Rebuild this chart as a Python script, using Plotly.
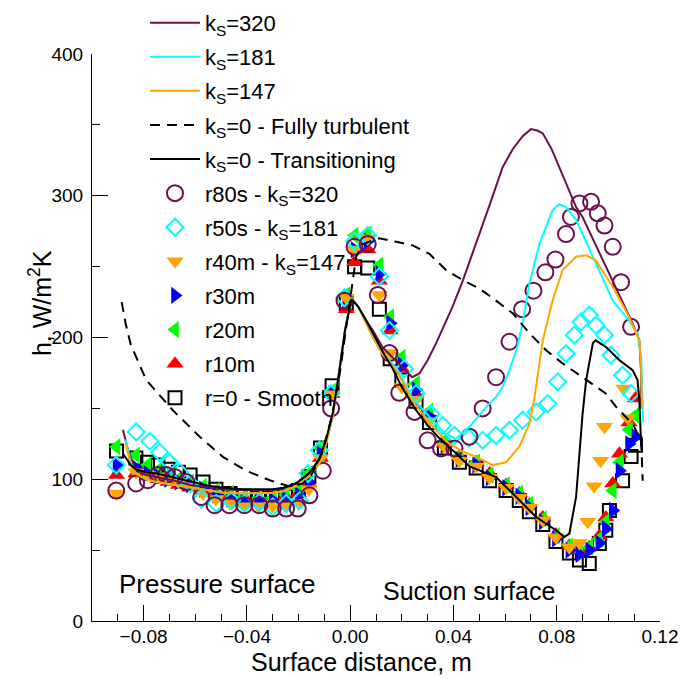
import plotly.graph_objects as go

# ---------------- data ----------------
# model curves
k320_x = [-0.088, -0.086, -0.083, -0.079, -0.075, -0.068, -0.062, -0.055, -0.049, -0.042, -0.036, -0.030, -0.026,
          -0.021, -0.016, -0.012, -0.0093, -0.0067, -0.0047, -0.002, 0.0005, 0.003, 0.0062, 0.0088, 0.0126, 0.0165,
          0.020, 0.024, 0.0268, 0.030, 0.0333, 0.0365, 0.0397, 0.0436, 0.050, 0.0545, 0.059, 0.063, 0.0668, 0.070,
          0.0725, 0.0746, 0.078, 0.081, 0.0875, 0.090, 0.0978, 0.1055, 0.1094, 0.112, 0.1127, 0.1127]
k320_y = [135, 120, 106, 103, 101.6, 99, 96, 94, 92.7, 92.4, 92.2, 92.5, 93.4, 97, 104, 113, 127.5, 146, 170, 205,
          228, 222, 212, 205, 193, 186, 179, 172, 174.6, 184, 196, 209, 222, 240, 272, 296, 320, 333, 342, 347, 346,
          344, 333, 320, 292, 285, 255, 226, 210, 198, 175, 150]

k181_x = [-0.087, -0.085, -0.083, -0.079, -0.075, -0.068, -0.062, -0.055, -0.049, -0.042, -0.036, -0.030, -0.026,
          -0.021, -0.016, -0.012, -0.0093, -0.0067, -0.0047, -0.002, 0.0005, 0.003, 0.0062, 0.0088, 0.0126, 0.0178,
          0.0205, 0.0242, 0.0307, 0.037, 0.041, 0.0462, 0.0527, 0.0565, 0.059, 0.0617, 0.0645, 0.0668, 0.0694,
          0.0733, 0.0784, 0.081, 0.0836, 0.0875, 0.094, 0.1017, 0.108, 0.1113, 0.1127, 0.1133, 0.1135]
k181_y = [128, 112, 104, 100, 98, 96, 94, 92, 90.5, 90, 90, 90.5, 91.5, 95, 102, 111, 125, 145, 170, 205, 228, 222,
          210, 200, 188, 179, 170, 157, 144, 132, 128.7, 137, 151, 158, 165, 177, 192, 210, 238, 266, 290, 294, 292,
          283, 257, 226, 212, 203, 186, 156, 140]

k147_x = [-0.087, -0.085, -0.083, -0.079, -0.075, -0.068, -0.062, -0.055, -0.049, -0.042, -0.036, -0.030, -0.026,
          -0.021, -0.016, -0.012, -0.0093, -0.0067, -0.0047, -0.002, 0.0005, 0.003, 0.0062, 0.0088, 0.0126, 0.0178,
          0.0205, 0.0242, 0.0307, 0.037, 0.043, 0.0488, 0.0552, 0.0604, 0.0655, 0.0694, 0.0714, 0.0746, 0.0784,
          0.0823, 0.0875, 0.0914, 0.095, 0.1017, 0.108, 0.112, 0.1127, 0.113]
k147_y = [125, 110, 104, 100, 98, 96, 94, 92, 90.5, 90, 90, 90.5, 91.5, 95, 102, 111, 125, 145, 170, 205, 228, 222,
          210, 200, 188, 177, 168, 155, 140, 127, 120, 115.8, 110, 112, 123, 139, 158, 198, 226, 247.6, 257, 258,
          254.6, 235.8, 214.6, 198, 179, 150]

turb_x = [-0.0885, -0.087, -0.085, -0.082, -0.079, -0.0687, -0.0583, -0.0493, -0.0403, -0.0312, -0.0235, -0.0183,
          -0.015, -0.011, -0.007, -0.004, -0.001, 0.0023, 0.0049, 0.0113, 0.0178, 0.0242, 0.0307, 0.0372, 0.0436,
          0.05, 0.0565, 0.063, 0.0694, 0.0759, 0.0823, 0.09, 0.099, 0.103, 0.1094, 0.1127, 0.1133]
turb_y = [225, 210, 195, 182, 170, 148.7, 130, 115.8, 106, 99.3, 95, 97, 103, 118, 145, 175, 215, 257, 266, 270,
          267.5, 265, 259, 247.5, 240.5, 234.6, 226, 217, 203, 191, 181.7, 172, 160.5, 151, 139, 127.5, 99]

trans_x = [-0.088, -0.085, -0.083, -0.079, -0.075, -0.068, -0.062, -0.055, -0.049, -0.042, -0.036, -0.030, -0.026,
           -0.021, -0.016, -0.012, -0.0093, -0.0067, -0.0047, -0.002, 0.0005, 0.003, 0.0062, 0.0088, 0.0126, 0.0165,
           0.020, 0.025, 0.030, 0.035, 0.040, 0.0462, 0.0565, 0.0643, 0.072, 0.0797, 0.083, 0.0849, 0.0875, 0.090,
           0.0914, 0.094, 0.095, 0.099, 0.1043, 0.1094, 0.1113, 0.112, 0.1127]
trans_y = [118, 110, 107, 105, 104, 101, 98, 95.5, 94, 93, 93, 93, 94, 97, 104, 114, 128, 147, 170, 205, 227, 222,
           212, 203, 190, 178, 165, 150, 138, 128, 120, 109, 101.6, 87.5, 73.4, 64, 59.3, 61.7, 87.5, 146, 170, 196,
           198, 193.4, 184, 177, 170, 156, 123]

# experimental data
press_x = [-0.0905, -0.083, -0.0785, -0.0745, -0.0705, -0.0665, -0.062, -0.057, -0.052, -0.0465, -0.041, -0.0355,
           -0.030, -0.025, -0.020, -0.016, -0.0115, -0.007, -0.0015]

r80_x = [-0.0906, -0.0829, -0.0784, -0.0745, -0.0713, -0.068, -0.0635, -0.0577, -0.0525, -0.0468, -0.041, -0.0352,
         -0.030, -0.0248, -0.0203, -0.0158, -0.0106, -0.0074, -0.0022,
         0.0017, 0.0068, 0.0107, 0.0152, 0.019, 0.0249, 0.030, 0.0352, 0.0404, 0.0462, 0.0513, 0.0565, 0.0617,
         0.0666, 0.071, 0.0756, 0.0795, 0.0836, 0.0855, 0.0888, 0.0933, 0.0959, 0.0985, 0.1017, 0.1049, 0.1088]
r80_y = [92, 97, 99.3, 103, 103, 101.6, 98, 87.5, 81.7, 81.7, 81.7, 81.7, 79.3, 79.3, 79.3, 88.7, 106, 150, 226,
         264, 266, 230, 189, 161, 147.5, 127.5, 121.7, 121.7, 130, 150, 172, 197, 220, 233, 246, 255, 273, 285,
         294.6, 295.7, 287.6, 279, 264, 239, 207.5]

r50_x = [-0.0906, -0.0829, -0.0776, -0.0738, -0.070, -0.066, -0.062, -0.0577, -0.0519, -0.046, -0.041, -0.0351,
         -0.030, -0.0248, -0.0196, -0.0164, -0.0119, -0.0074, -0.0022,
         0.0017, 0.0068, 0.0113, 0.0152, 0.021, 0.0255, 0.0313, 0.0358, 0.0404, 0.046, 0.0513, 0.0565, 0.0617,
         0.0668, 0.072, 0.0765, 0.0804, 0.0836, 0.0868, 0.0894, 0.0926, 0.0952, 0.0985, 0.101, 0.1055, 0.1088]
r50_y = [110, 133.4, 126.8, 119, 112, 105, 97, 86, 83, 85, 83, 84, 80.5, 83, 85, 104, 120.5, 160.5, 228,
         268, 272, 243, 205, 178, 160.5, 146, 138, 131, 129, 127.5, 131, 134.6, 141.7, 147.5, 153.4, 168.7, 188.7,
         201.7, 211, 215.8, 208.7, 201.7, 187.5, 173.4, 160.5]

r40_x = press_x + [0.0017, 0.0068, 0.0113, 0.0155, 0.020, 0.0255, 0.0307, 0.0365, 0.0423, 0.0488, 0.054, 0.0604,
                   0.0655, 0.0694, 0.0746, 0.0797, 0.0849, 0.0888, 0.092, 0.0945, 0.097, 0.0985, 0.106, 0.1075]
r40_y = [90, 105, 103, 102, 100, 98, 95, 90, 86, 83, 81, 81, 81, 81, 83, 93, 115, 160, 228,
         262, 270, 230, 189, 165, 156, 141, 123, 113, 109, 101, 94, 87, 80, 71, 59, 52, 55, 70, 95, 113, 137, 164, 143]

suct_x = [0.0017, 0.0068, 0.0113, 0.0155, 0.020, 0.0255, 0.0307, 0.0365, 0.0423, 0.0488, 0.054, 0.0604, 0.0655,
          0.0694, 0.0746, 0.0797, 0.0849, 0.0888, 0.0926, 0.0965, 0.099, 0.1017, 0.1043, 0.108, 0.1105]

r30_x = press_x + suct_x
r30_y = [110, 108, 104, 102, 100, 98, 96, 93, 89, 86, 85, 85, 85, 86, 89, 98, 118, 160, 226,
         262, 268, 245, 210, 180.5, 163, 144, 124, 114, 110, 101, 94, 88, 80, 70, 58, 50, 47, 50, 55, 65, 78, 106,
         125, 130]

r20_x = press_x + suct_x
r20_y = [123, 117, 110, 106, 103, 100, 98, 95, 92, 90, 88, 87, 87, 89, 93, 104, 122, 162, 230,
         272, 273, 251, 214.6, 186, 167.5, 148, 127, 116, 112, 103, 96, 90, 82, 72, 60, 53, 50, 52, 58, 70, 92, 112,
         135, 145]

r10_x = press_x + suct_x
r10_y = [103, 104, 102, 100, 98, 96, 94, 92, 90, 89, 87, 86, 86, 88, 90, 97, 115, 160, 220,
         253, 262, 240, 205, 178, 160, 145, 125, 116, 112, 104, 96, 90, 82, 73, 61, 53, 50, 52, 60, 73, 97, 118,
         140, 157]

r0_x = press_x + [0.0017, 0.0068, 0.0113, 0.0155, 0.020, 0.0255, 0.0307, 0.0365, 0.0423, 0.0488, 0.054, 0.0604,
                  0.0655, 0.0694, 0.0746, 0.0797, 0.0849, 0.0888, 0.0926, 0.0965, 0.099, 0.1004, 0.1055, 0.1088,
                  0.1105]
r0_y = [120, 115, 112, 110, 107, 105, 103, 98, 93, 90, 88, 87, 87, 88, 92, 102, 122, 166, 224,
        250, 249, 220, 185, 170, 155, 140, 122, 112, 108, 99, 92, 85, 77, 68, 56, 48, 43, 40.5, 54.6, 64, 78, 99,
        116, 124]

x_ticks = [-0.08, -0.04, 0.00, 0.04, 0.08, 0.12]
y_ticks = [0, 100, 200, 300, 400]

PURPLE = "#6B0F50"
CYAN = "#00FFFF"
ORANGE = "#FFA500"
FONT = "Liberation Sans, Arial, sans-serif"

fig = go.Figure()

# markers (drawn first, lines on top)
markers = [
    ("r=0 - Smooth", r0_x, r0_y, "square-open", 13, "black", 12),
    ("r10m", r10_x, r10_y, "triangle-up", 15, "#FF0000", 11),
    ("r20m", r20_x, r20_y, "triangle-left", 15, "#00FF00", 10),
    ("r30m", r30_x, r30_y, "triangle-right", 15, "#0000FF", 9),
    ("r40m - k<sub>S</sub>=147", r40_x, r40_y, "triangle-down", 15, ORANGE, 8),
    ("r50s - k<sub>S</sub>=181", r50_x, r50_y, "diamond-open", 13, CYAN, 7),
    ("r80s - k<sub>S</sub>=320", r80_x, r80_y, "circle-open", 16, PURPLE, 6),
]
for name, xs, ys, sym, sz, col, rank in markers:
    open_ = sym.endswith("open")
    fig.add_trace(go.Scatter(
        x=xs, y=ys, mode="markers", name=name, legendrank=rank, legendgroup=name,
        marker=dict(symbol=sym, size=sz, color=col,
                    line=dict(width=2 if open_ else 0, color=col)),
    ))

lines = [
    ("k<sub>S</sub>=320", k320_x, k320_y, PURPLE, "solid", 1),
    ("k<sub>S</sub>=181", k181_x, k181_y, CYAN, "solid", 2),
    ("k<sub>S</sub>=147", k147_x, k147_y, ORANGE, "solid", 3),
    ("k<sub>S</sub>=0 - Fully turbulent", turb_x, turb_y, "black", "dash", 4),
    ("k<sub>S</sub>=0 - Transitioning", trans_x, trans_y, "black", "solid", 5),
]
for name, xs, ys, col, dash, rank in lines:
    fig.add_trace(go.Scatter(
        x=xs, y=ys, mode="lines", name=name, legendrank=rank, legendgroup=name,
        line=dict(color=col, width=2, dash="10px,7px" if dash == "dash" else "solid"),
    ))

fig.add_annotation(x=-0.0515, y=26, text="Pressure surface", showarrow=False,
                   font=dict(size=26, color="black", family=FONT))
fig.add_annotation(x=0.0462, y=21, text="Suction surface", showarrow=False,
                   font=dict(size=25, color="black", family=FONT))
fig.add_annotation(xref="paper", yref="paper", x=0.4747, y=-0.0729, xanchor="center", yanchor="middle",
                   text="Surface distance, m", showarrow=False,
                   font=dict(size=25, color="black", family=FONT))
fig.add_annotation(xref="paper", yref="paper", x=-0.0905, y=0.56, xanchor="center", yanchor="middle",
                   text="h, W/m<sup>2</sup>K", textangle=-90, showarrow=False,
                   font=dict(size=25, color="black", family=FONT))

fig.update_layout(
    width=685, height=679,
    margin=dict(l=92, r=25, t=54, b=58, autoexpand=False),
    paper_bgcolor="white", plot_bgcolor="white",
    font=dict(family=FONT, color="black", size=18),
    showlegend=True,
    legend=dict(x=0.0933, y=1.092, xanchor="left", yanchor="top",
                bgcolor="rgba(0,0,0,0)", font=dict(size=22, family=FONT),
                tracegroupgap=2.5, itemwidth=50, maxheight=700),
    xaxis=dict(range=[-0.1, 0.12], tickvals=x_ticks, tickformat=".2f",
               ticks="inside", ticklen=16, tickwidth=1, tickcolor="black",
               showline=True, linecolor="black", linewidth=1, showgrid=False, zeroline=False,
               minor=dict(dtick=0.01, tick0=0, ticks="inside", ticklen=7, tickcolor="black", showgrid=False),
               tickfont=dict(size=19, family=FONT), ticklabelstandoff=-2),
    yaxis=dict(range=[0, 400], tickvals=y_ticks,
               ticks="inside", ticklen=16, tickwidth=1, tickcolor="black",
               showline=True, linecolor="black", linewidth=1, showgrid=False, zeroline=False,
               minor=dict(dtick=50, tick0=0, ticks="inside", ticklen=8, tickcolor="black", showgrid=False),
               tickfont=dict(size=19, family=FONT), ticklabelstandoff=4),
)

fig.write_html("out.html", config={"displayModeBar": False},
               post_script="document.body.style.margin='0px';")
